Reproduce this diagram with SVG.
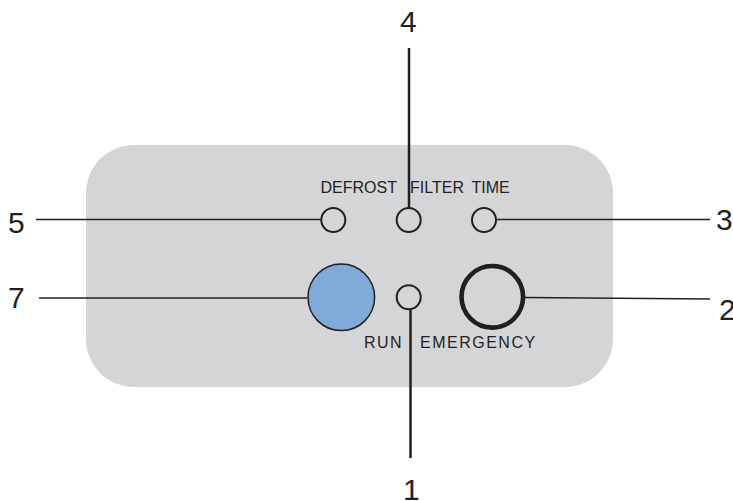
<svg xmlns="http://www.w3.org/2000/svg" width="733" height="501" viewBox="0 0 733 501">
<style>
.lbl{font-family:"Liberation Sans",Arial,sans-serif;fill:#231f20}
.num{font-size:30px}
.cap{font-size:16px}
.wide{letter-spacing:1.5px}
.led{fill:none;stroke:#231f20;stroke-width:2}
.ln{stroke:#231f20;stroke-width:1.4;fill:none}
.lnv{stroke:#231f20;stroke-width:2.5;fill:none}
</style>
<rect x="86" y="145" width="527" height="242" rx="48" ry="48" fill="#d4d5d7"/>
<g id="connectors">
<line class="ln" x1="36" y1="219.5" x2="321" y2="219.5"/>
<line class="ln" x1="39" y1="298" x2="307" y2="298"/>
<line class="ln" x1="497" y1="219.5" x2="710" y2="219.5"/>
<line class="ln" x1="525" y1="297.5" x2="710" y2="299"/>
<line class="lnv" x1="409" y1="48" x2="409" y2="207"/>
<line class="lnv" x1="410.5" y1="310" x2="410.5" y2="458"/>
</g>
<g id="defrost"><circle class="led" cx="333.3" cy="220" r="12"/><text class="lbl cap" x="320.5" y="192.5">DEFROST</text></g>
<g id="filter"><circle class="led" cx="408.7" cy="220" r="12"/><text class="lbl cap" x="410" y="192.5">FILTER</text></g>
<g id="time"><circle class="led" cx="484" cy="220" r="12"/><text class="lbl cap" x="471.5" y="192.5">TIME</text></g>
<g id="button"><circle cx="341.3" cy="297.3" r="33.3" fill="#7faad9" stroke="#231f20" stroke-width="1.5"/></g>
<g id="run"><circle class="led" cx="408.7" cy="297.3" r="12"/><text class="lbl cap wide" x="364" y="348">RUN</text></g>
<g id="emergency"><circle cx="492.3" cy="296.8" r="30.8" fill="none" stroke="#231f20" stroke-width="4.6"/><text class="lbl cap wide" x="420" y="348">EMERGENCY</text></g>
<g id="labels">
<text class="lbl num" x="8" y="233">5</text>
<text class="lbl num" x="8" y="308">7</text>
<text class="lbl num" x="716" y="229.5">3</text>
<text class="lbl num" x="719" y="320">2</text>
<text class="lbl num" x="400" y="32">4</text>
<text class="lbl num" x="403" y="500">1</text>
</g>
</svg>
